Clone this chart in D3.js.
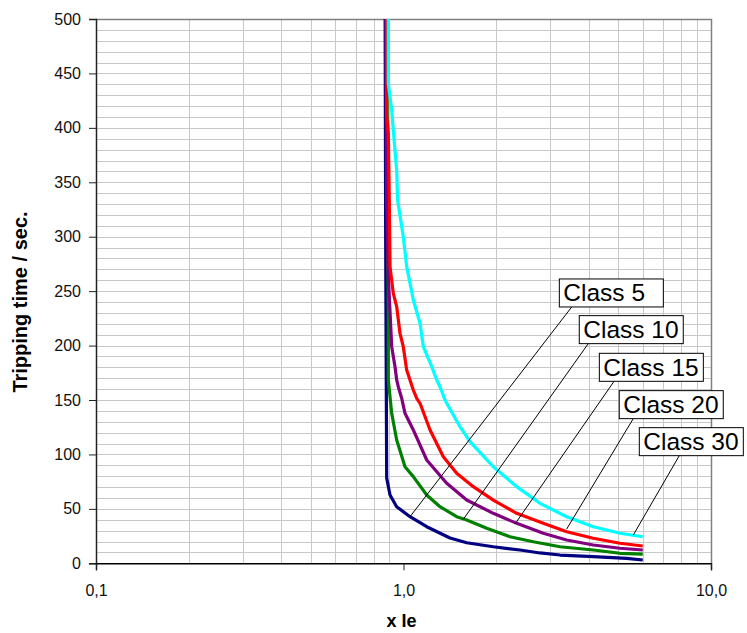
<!DOCTYPE html>
<html><head><meta charset="utf-8">
<script src="https://cdn.jsdelivr.net/npm/d3@7"></script>
<style>body{margin:0;background:#fff;} svg{display:block;font-family:Arial,"Liberation Sans",sans-serif;}</style>
</head><body><svg id="chart" width="747" height="633"></svg>
<script>
// ---- data ----
const seriesNames = ["Class 5", "Class 10", "Class 15", "Class 20", "Class 30"];
const seriesColors = ["#000080", "#008000", "#800080", "#FF0000", "#00FFFF"];

const class5 = [[0.8706,560],[0.8750,300],[0.8817,78.4],[0.904,62.7],[0.95,52],[1.0498,42.8],[1.1898,33.6],[1.4166,23.2],[1.6053,18.9],[1.9588,15.2],[2.3929,12.2],[2.7786,9.5],[3.2284,7.6],[4.1419,6.1],[5.3174,4.6],[6.0,3.0]];
const class10 = [[0.8817,560],[0.8870,330],[0.8925,229.9],[0.8925,168.4],[0.9154,137.8],[0.9504,113.3],[1.0113,88.7],[1.0762,79.6],[1.1898,62.7],[1.3143,52.0],[1.4894,42.8],[1.6053,39.8],[1.8649,32.2],[2.2198,24.4],[2.6427,19.8],[3.2284,15.2],[4.1419,12.2],[5.0582,9.2],[6.0,8.5]];
const class15 = [[0.8750,560],[0.8817,330],[0.8925,263.3],[0.9154,199.0],[0.9384,180.6],[0.9504,168.4],[0.9618,162.2],[0.9865,151.6],[1.0113,137.8],[1.0762,122.5],[1.1898,94.9],[1.3820,73.5],[1.6053,58.1],[1.9588,45.9],[2.3340,36.7],[2.8481,27.6],[3.3945,21.4],[4.1419,16.8],[5.0582,13.8],[6.0,12.2]];
const class20 = [[0.8817,560],[0.8817,410.9],[0.8925,395.3],[0.8990,333.8],[0.9040,272.5],[0.9264,248.0],[0.9504,235.7],[0.9741,211.3],[0.9984,199.0],[1.0242,177.6],[1.0498,168.4],[1.0762,159.2],[1.1039,151.6],[1.1317,147.0],[1.2200,122.5],[1.3473,97.9],[1.4894,82.7],[1.6866,70.4],[1.9588,58.1],[2.3340,45.9],[2.8481,36.7],[3.3945,29.0],[4.1419,23.0],[5.0582,18.4],[6.0,15.9]];
const class30 = [[0.8925,560],[0.8925,440.9],[0.9154,416.4],[0.9384,378.9],[0.9504,360.5],[0.9568,333.8],[0.9984,300.0],[1.0242,272.5],[1.0762,241.9],[1.1317,220.5],[1.1600,199.0],[1.2356,180.6],[1.2823,168.4],[1.3143,162.2],[1.3646,150.0],[1.3820,147.0],[1.5269,125.5],[1.6455,111.7],[1.9588,88.7],[2.3340,70.4],[2.7786,55.1],[3.3945,42.8],[4.1419,33.6],[5.0582,27.6],[6.0,24.4]];
const seriesData = [class5, class10, class15, class20, class30];

const xTicks = [0.1, 1, 10];
const xTickLabels = ["0,1", "1,0", "10,0"];
const xGridValues = [0.2,0.3,0.4,0.5,0.6,0.7,0.8,0.9,2,3,4,5,6,7,8,9];
const yTicks = [0,50,100,150,200,250,300,350,400,450,500];
const yGridValues = [10,20,30,40,50,60,70,80,90,100,110,120,130,140,150,160,170,180,190,200,210,220,230,240,250,260,270,280,290,300,310,320,330,340,350,360,370,380,390,400,410,420,430,440,450,460,470,480,490];

// label boxes (top-left anchor in data space) and pointer targets on curves
const labelBoxX = [3.212, 3.729, 4.334, 5.031, 5.846];
const labelBoxT = [261.2, 227.5, 192.9, 158.6, 124.6];
const pointerX = [1.0498, 1.5648, 2.305, 3.394, 5.588];
const pointerT = [42.8, 40.4, 36.1, 31.5, 26.0];
const leaderOffset = [12.4, 9, 14.7, 14, 40];

// ---- drawing ----
const svg = d3.select("#chart");
const pLeft = 96, pRight = 711, pTop = 19, pBottom = 563.3;
const x = d3.scaleLog().domain([0.1, 10]).range([pLeft, pRight]);
const y = d3.scaleLinear().domain([0, 500]).range([pBottom, pTop]);

svg.append("defs").append("clipPath").attr("id", "plotclip")
  .append("rect").attr("x", pLeft).attr("y", pTop).attr("width", pRight - pLeft).attr("height", pBottom - pTop);

// gridlines
svg.append("g").selectAll("line").data(yGridValues).join("line")
  .attr("x1", pLeft).attr("x2", pRight)
  .attr("y1", d => Math.round(y(d)) + 0.5).attr("y2", d => Math.round(y(d)) + 0.5)
  .attr("stroke", "#c8c8c8").attr("stroke-width", 1);
svg.append("g").selectAll("line").data(xGridValues).join("line")
  .attr("y1", pTop).attr("y2", pBottom)
  .attr("x1", d => Math.round(x(d)) + 0.5).attr("x2", d => Math.round(x(d)) + 0.5)
  .attr("stroke", "#c8c8c8").attr("stroke-width", 1);

// plot border (top/right)
svg.append("path")
  .attr("d", `M${pLeft},${pTop + 0.5}H${pRight + 0.5}V${pBottom}`)
  .attr("fill", "none").attr("stroke", "#808080").attr("stroke-width", 1.5);

// axes
const yAxis = d3.axisLeft(y).tickValues(yTicks).tickSize(7).tickPadding(8).tickFormat(d3.format("d"));
const gy = svg.append("g").attr("transform", `translate(${pLeft},0)`).call(yAxis);
gy.select(".domain").attr("stroke", "#222").attr("stroke-width", 1.5);
gy.selectAll(".tick line").attr("stroke", "#222");
gy.selectAll(".tick text").attr("font-size", 16).attr("fill", "#111").attr("font-family", "Arial, 'Liberation Sans', sans-serif");

const xAxis = d3.axisBottom(x).tickValues(xTicks).tickSize(7).tickPadding(14).tickFormat((d, i) => xTickLabels[i]);
const gx = svg.append("g").attr("transform", `translate(0,${pBottom})`).call(xAxis);
gx.select(".domain").attr("stroke", "#000").attr("stroke-width", 1.5);
gx.selectAll(".tick line").attr("stroke", "#222");
gx.selectAll(".tick text").attr("font-size", 16).attr("fill", "#111").attr("font-family", "Arial, 'Liberation Sans', sans-serif");

// series
const line = d3.line().x(d => x(d[0])).y(d => y(d[1]));
svg.append("g").attr("clip-path", "url(#plotclip)")
  .selectAll("path").data(seriesData).join("path")
  .attr("d", line)
  .attr("fill", "none")
  .attr("stroke", (d, i) => seriesColors[i])
  .attr("stroke-width", 3.2)
  .attr("stroke-linejoin", "round");

// labels with leader lines
const boxW = 104, boxH = 28;
const lab = svg.append("g");
seriesNames.forEach((name, i) => {
  const bx = x(labelBoxX[i]), by = y(labelBoxT[i]);
  lab.append("line")
    .attr("x1", bx + leaderOffset[i]).attr("y1", by + boxH)
    .attr("x2", x(pointerX[i])).attr("y2", y(pointerT[i]))
    .attr("stroke", "#000").attr("stroke-width", 1);
  lab.append("rect")
    .attr("x", bx).attr("y", by).attr("width", boxW).attr("height", boxH)
    .attr("fill", "#fff").attr("stroke", "#000").attr("stroke-width", 1);
  lab.append("text")
    .attr("x", bx + 4).attr("y", by + 22.5)
    .attr("font-size", 24.5).attr("fill", "#000")
    .text(name);
});

// axis titles
svg.append("text")
  .attr("x", (pLeft + pRight) / 2 - 2).attr("y", 627)
  .attr("text-anchor", "middle").attr("font-weight", "bold").attr("font-size", 18)
  .text("x Ie");
svg.append("text")
  .attr("transform", "translate(27,302) rotate(-90)")
  .attr("text-anchor", "middle").attr("font-weight", "bold").attr("font-size", 20)
  .text("Tripping time / sec.");
</script></body></html>
